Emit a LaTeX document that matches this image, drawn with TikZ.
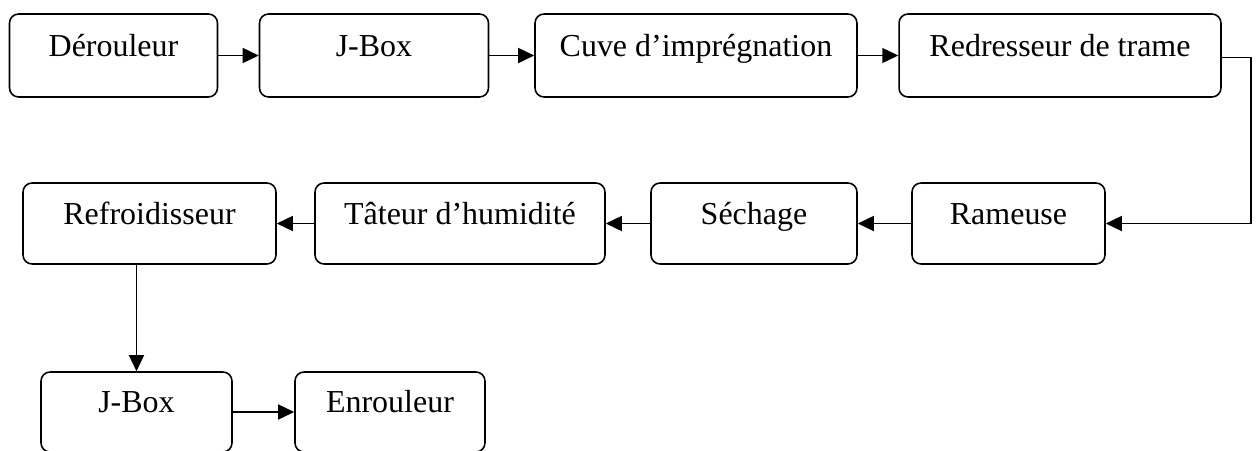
\documentclass[tikz,border=0pt]{standalone}
\usepackage{fontspec}
\setmainfont{Liberation Serif}
\usetikzlibrary{arrows.meta,positioning,calc}

\begin{document}
\begin{tikzpicture}[x=0.02cm,y=-0.02cm,
stage/.style={draw,rounded corners=0.18cm,line width=0.9pt,inner sep=0pt,text height=0.7em,text depth=0.6em,font=\fontsize{18.2}{21}\selectfont},
flow/.style={-{Triangle[length=0.32cm,width=0.3cm]},line width=0.85pt}]
\useasboundingbox (0,0) rectangle (1258,450);
% first row
\node[stage,minimum width=4.16cm,minimum height=1.66cm] (derouleur) at (113.5,55.5) {Dérouleur};
\node[stage,minimum width=4.58cm,minimum height=1.66cm] (jboxa) at (374,55.5) {J-Box};
\node[stage,minimum width=6.44cm,minimum height=1.66cm] (cuve) at (696,55.5) {Cuve d’imprégnation};
\node[stage,minimum width=6.44cm,minimum height=1.66cm] (redresseur) at (1060,55.5) {Redresseur de trame};
% second row
\node[stage,minimum width=5.06cm,minimum height=1.62cm] (refroid) at (149.5,223.5) {Refroidisseur};
\node[stage,minimum width=5.8cm,minimum height=1.62cm] (tateur) at (460,223.5) {Tâteur d’humidité};
\node[stage,minimum width=4.12cm,minimum height=1.62cm] (sechage) at (754,223.5) {Séchage};
\node[stage,minimum width=3.86cm,minimum height=1.62cm] (rameuse) at (1008.5,223.5) {Rameuse};
% third row
\node[stage,minimum width=3.82cm,minimum height=1.6cm] (jboxb) at (136.5,412) {J-Box};
\node[stage,minimum width=3.8cm,minimum height=1.6cm] (enrouleur) at (390,412) {Enrouleur};
\coordinate (turn) at (1251,57.5);
\path[flow]
(derouleur) edge (jboxa)
(jboxa) edge (cuve)
(cuve) edge (redresseur)
(rameuse) edge (sechage)
(sechage) edge (tateur)
(tateur) edge (refroid)
(jboxb) edge (enrouleur)
;
\draw[flow] (redresseur.east |- turn) -- (turn) |- (rameuse.east);
\draw[flow] (jboxb.north |- refroid.south) -- (jboxb.north);
\end{tikzpicture}
\end{document}
